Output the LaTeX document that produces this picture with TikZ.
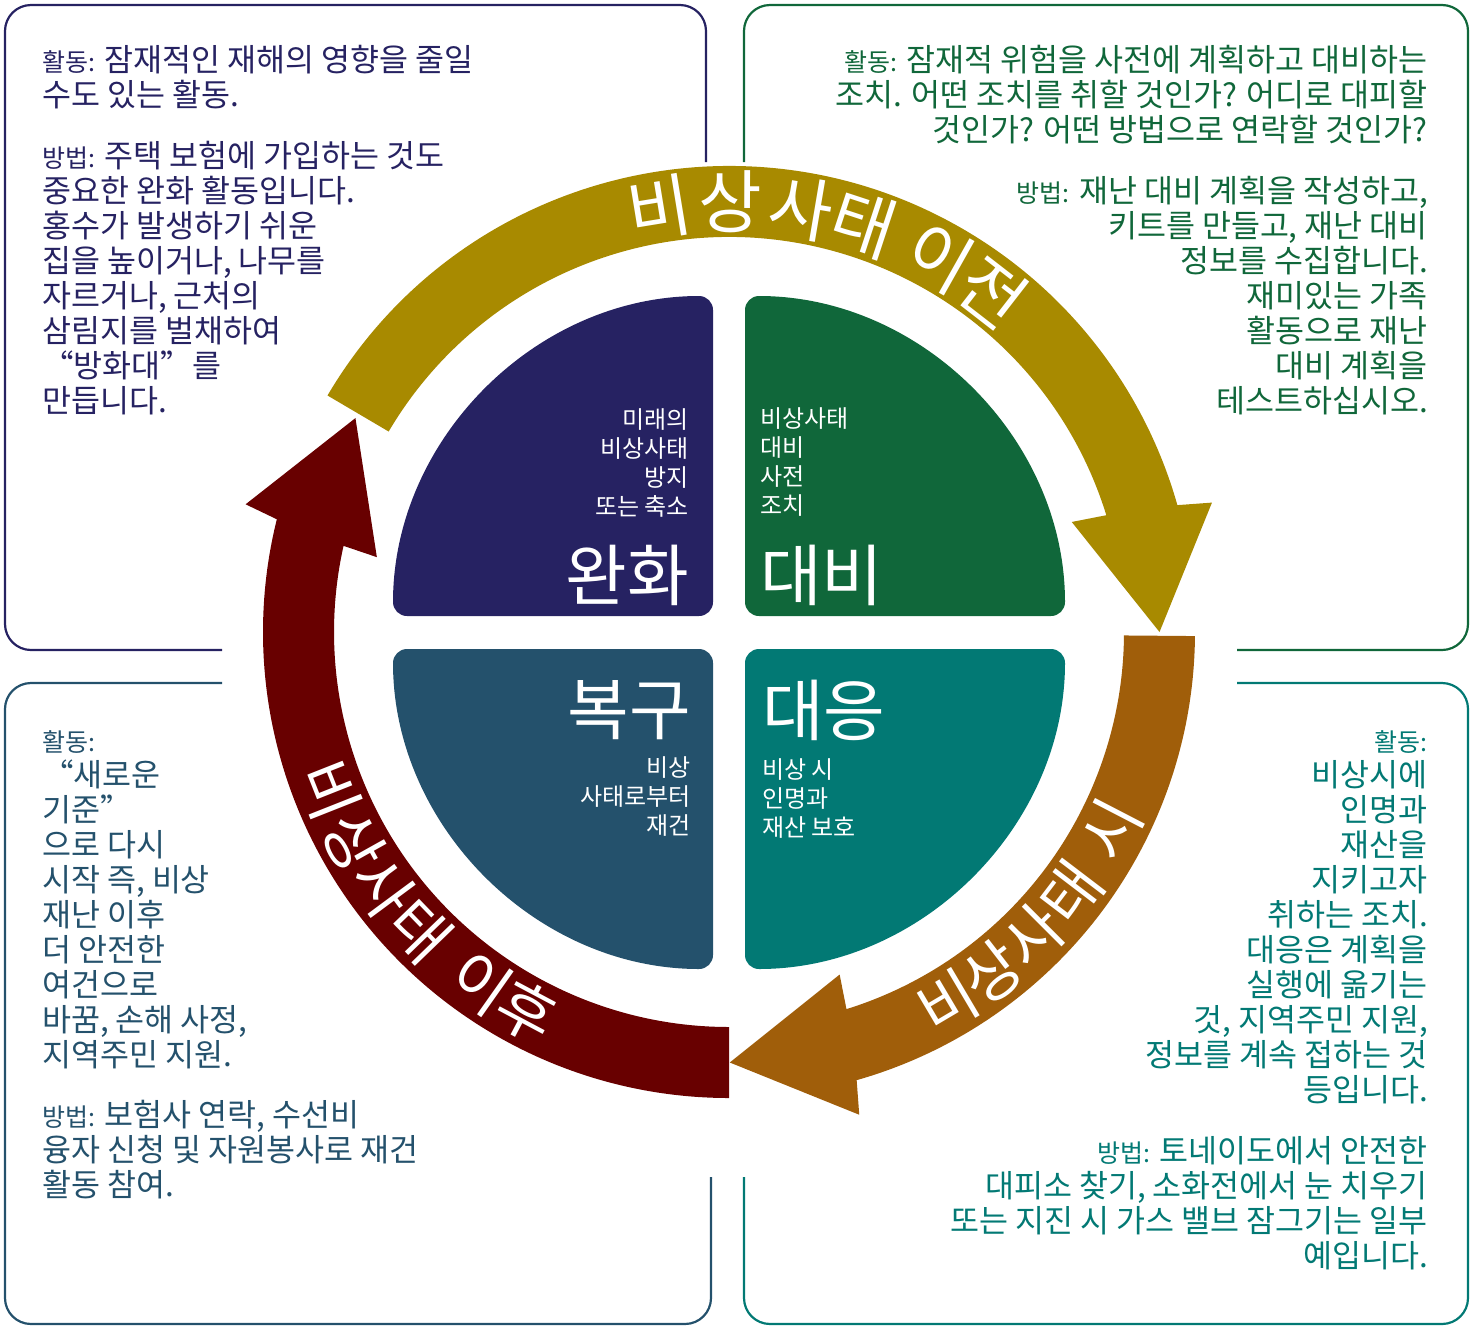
\documentclass[tikz,border=0pt]{standalone}
\usepackage{fontspec}
\setmainfont{Noto Sans CJK KR}
\newfontfamily\qtfont{Noto Sans CJK SC}
\usetikzlibrary{positioning}

\definecolor{mitnavy}{RGB}{38,34,98}
\definecolor{prepgreen}{RGB}{16,103,58}
\definecolor{recblue}{RGB}{36,81,108}
\definecolor{respteal}{RGB}{2,121,116}
\definecolor{ringgold}{RGB}{168,138,0}
\definecolor{ringbrown}{RGB}{160,94,10}
\definecolor{ringmaroon}{RGB}{104,0,0}

\newcommand{\lbl}[1]{{\fontsize{25}{35}\selectfont #1}}
\newcommand{\openq}{{\qtfont “}}
\newcommand{\closeq}{{\qtfont ”}}

\tikzset{
  bodytext/.style={inner sep=0pt, font=\fontsize{31.5}{35}\selectfont},
  quadsmall/.style={inner sep=0pt, text=white, font=\fontsize{24}{29}\selectfont},
  quadbig/.style={inner sep=0pt, text=white, font=\fontsize{67}{70}\selectfont},
  ringtext/.style={inner sep=0pt, text=white, font=\fontsize{62}{64}\selectfont},
  ringbig/.style={ringtext, font=\fontsize{69}{72}\selectfont},
  boxline/.style={line width=2.2pt, rounded corners=26pt},
}

\begin{document}
\begin{tikzpicture}[x=1pt, y=1pt]
	\useasboundingbox (0,0) rectangle (1478,-1326);

	\draw[boxline, mitnavy] (222,-650) -- (5,-650) -- (5,-5) -- (706,-5) -- (706,-162);
	\draw[boxline, prepgreen] (744,-162) -- (744,-5) -- (1468,-5) -- (1468,-650) -- (1237,-650);
	\draw[boxline, recblue] (222,-683) -- (5,-683) -- (5,-1324) -- (711,-1324) -- (711,-1177);
	\draw[boxline, respteal] (744,-1177) -- (744,-1324) -- (1468,-1324) -- (1468,-683) -- (1237,-683);

	\fill[mitnavy, rounded corners=14pt] (713,-616) -- (713,-296) arc[start angle=90, end angle=180, radius=320] -- cycle;
	\fill[prepgreen, rounded corners=14pt] (745,-616) -- (1065,-616) arc[start angle=0, end angle=90, radius=320] -- cycle;
	\fill[recblue, rounded corners=14pt] (713,-649) -- (393,-649) arc[start angle=180, end angle=270, radius=320] -- cycle;
	\fill[respteal, rounded corners=14pt] (745,-649) -- (745,-969) arc[start angle=270, end angle=360, radius=320] -- cycle;

	\begin{scope}[shift={(729,-632)}]
		\foreach \a/\b/\col in {149.5/0/ringgold, -0.5/-89.9/ringbrown, -90/-209.8/ringmaroon}
			\fill[\col] (\a:466) arc[start angle=\a, end angle=\b+15.8, radius=466]
				-- (\b+15:500) -- (\b:430.5) -- (\b+17.8:360) -- (\b+17.2:395)
				arc[start angle=\b+17.2, end angle=\a, radius=395] -- cycle;

		\foreach \ch/\ang in {비/99.3, 상/89.8, 사/80.4, 태/71.8, 이/60.6, 전/52.2}
			\node[ringbig, rotate=\ang-90] at (\ang:430) {\ch};
		\foreach \ch/\ang in {비/-59.4, 상/-52.3, 사/-45, 태/-37.3, 시/-27.4}
			\node[ringtext, rotate=\ang+90] at (\ang:430) {\ch};
		\foreach \ch/\ang in {비/201.6, 상/209.2, 사/216.5, 태/224, 이/234.8, 후/242}
			\node[ringtext, rotate=\ang+90] at (\ang:430) {\ch};
	\end{scope}

	\node[quadbig, anchor=north east] (mitbig) at (689,-545) {완화};
	\node[quadsmall, align=right, above=28pt of mitbig.north east, anchor=south east] (mitsmall) {미래의\\비상사태\\방지\\또는 축소};
	\node[quadbig, anchor=north west] (prepbig) at (760,-545) {대비};
	\node[quadsmall, align=left, above=28pt of prepbig.north west, anchor=south west] (prepsmall) {비상사태\\대비\\사전\\조치};
	\node[quadbig, anchor=north east] (recbig) at (691,-680) {복구};
	\node[quadsmall, align=right, below=17pt of recbig.south east, anchor=north east] (recsmall) {비상\\사태로부터\\재건};
	\node[quadbig, anchor=north west] (respbig) at (762,-680) {대응};
	\node[quadsmall, align=left, below=17pt of respbig.south west, anchor=north west] (respsmall) {비상 시\\인명과\\재산 보호};

	\node[bodytext, mitnavy, align=left, anchor=north west] (mitact) at (42,-45) {\lbl{활동:} 잠재적인 재해의 영향을 줄일\\수도 있는 활동.};
	\node[bodytext, mitnavy, align=left, below=32pt of mitact.south west, anchor=north west] (mitway) {\lbl{방법:} 주택 보험에 가입하는 것도\\중요한 완화 활동입니다.\\홍수가 발생하기 쉬운\\집을 높이거나, 나무를\\자르거나, 근처의\\삼림지를 벌채하여\\\openq 방화대\closeq 를\\만듭니다.};

	\node[bodytext, prepgreen, align=right, anchor=north east] (prepact) at (1428,-45) {\lbl{활동:} 잠재적 위험을 사전에 계획하고 대비하는\\조치. 어떤 조치를 취할 것인가? 어디로 대피할\\것인가? 어떤 방법으로 연락할 것인가?};
	\node[bodytext, prepgreen, align=right, below=32pt of prepact.south east, anchor=north east] (prepway) {\lbl{방법:} 재난 대비 계획을 작성하고,\\키트를 만들고, 재난 대비\\정보를 수집합니다.\\재미있는 가족\\활동으로 재난\\대비 계획을\\테스트하십시오.};

	\node[bodytext, recblue, align=left, anchor=north west] (recact) at (42,-730) {\lbl{활동:}\\\openq 새로운\\기준\closeq\\으로 다시\\시작 즉, 비상\\재난 이후\\더 안전한\\여건으로\\바꿈, 손해 사정,\\지역주민 지원.};
	\node[bodytext, recblue, align=left, below=31pt of recact.south west, anchor=north west] (recway) {\lbl{방법:} 보험사 연락, 수선비\\융자 신청 및 자원봉사로 재건\\활동 참여.};

	\node[bodytext, respteal, align=right, anchor=north east] (respact) at (1428,-730) {\lbl{활동:}\\비상시에\\인명과\\재산을\\지키고자\\취하는 조치.\\대응은 계획을\\실행에 옮기는\\것, 지역주민 지원,\\정보를 계속 접하는 것\\등입니다.};
	\node[bodytext, respteal, align=right, below=32pt of respact.south east, anchor=north east] (respway) {\lbl{방법:} 토네이도에서 안전한\\대피소 찾기, 소화전에서 눈 치우기\\또는 지진 시 가스 밸브 잠그기는 일부\\예입니다.};
\end{tikzpicture}
\end{document}
